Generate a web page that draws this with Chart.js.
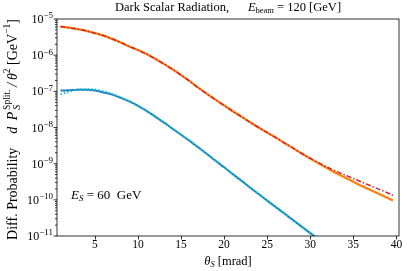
<!DOCTYPE html>
<html>
<head>
<meta charset="utf-8">
<script src="https://cdn.jsdelivr.net/npm/chart.js@4.4.1/dist/chart.umd.min.js"></script>
<style>
  html, body { margin: 0; padding: 0; background: #fff; }
  #wrap { width: 407px; height: 271px; }
</style>
</head>
<body>
<div id="wrap"><canvas id="chart" width="407" height="271"></canvas></div>
<script>
// values (theta in mrad, probability in GeV^-1)
const theta = [1,2,3,4,5,6,7,8,9,10,11,12,13,14,15,16,17,18,19,20,21,22,23,24,25,26,27,28,29,30,31,32,33,34,35,36,37,38,39,39.6];
const orangeVals = [6.17e-6,5.75e-6,5.25e-6,4.68e-6,4.07e-6,3.47e-6,2.82e-6,2.24e-6,1.74e-6,1.38e-6,
  1.07e-6,7.94e-7,5.75e-7,4.07e-7,2.82e-7,1.91e-7,1.26e-7,8.51e-8,5.89e-8,4.07e-8,
  2.82e-8,2.0e-8,1.41e-8,1.0e-8,7.24e-9,5.25e-9,3.72e-9,2.69e-9,1.91e-9,1.38e-9,
  1.0e-9,7.41e-10,5.5e-10,4.17e-10,3.16e-10,2.4e-10,1.86e-10,1.45e-10,1.12e-10,9.5e-11];
const redVals = [6.17e-6,5.75e-6,5.25e-6,4.68e-6,4.07e-6,3.47e-6,2.82e-6,2.24e-6,1.74e-6,1.38e-6,
  1.07e-6,7.94e-7,5.75e-7,4.07e-7,2.82e-7,1.91e-7,1.26e-7,8.51e-8,5.89e-8,4.07e-8,
  2.82e-8,2.0e-8,1.41e-8,1.0e-8,7.24e-9,5.25e-9,3.72e-9,2.69e-9,1.91e-9,1.41e-9,
  1.05e-9,7.94e-10,6.17e-10,4.9e-10,3.89e-10,3.09e-10,2.45e-10,1.95e-10,1.55e-10,1.32e-10];
const blueVals = [1.05e-7,1.07e-7,1.1e-7,1.1e-7,1.05e-7,9.3e-8,8.1e-8,6.6e-8,5.25e-8,3.98e-8,
  2.88e-8,2.0e-8,1.38e-8,9.3e-9,6.3e-9,4.27e-9,2.82e-9,1.86e-9,1.2e-9,7.94e-10,
  5.13e-10,3.39e-10,2.19e-10,1.45e-10,9.5e-11,6.3e-11,4.17e-11,2.75e-11,1.82e-11,1.2e-11,7.9e-12];
const cyanVals = [8.3e-8,9.8e-8,1.12e-7,1.15e-7,1.12e-7,1.0e-7,8.5e-8,6.8e-8,5.25e-8,3.98e-8,
  2.88e-8,2.0e-8,1.38e-8,9.3e-9,6.3e-9,4.27e-9,2.82e-9,1.86e-9,1.2e-9,7.94e-10,
  5.13e-10,3.39e-10,2.19e-10,1.45e-10,9.5e-11,6.3e-11,4.17e-11,2.75e-11,1.82e-11,1.2e-11,7.9e-12];

const xTicks = [5,10,15,20,25,30,35,40];
const yExponents = [-11,-10,-9,-8,-7,-6,-5];

const SERIF = '"Liberation Serif", "DejaVu Serif", serif';

function pts(vals) {
  return vals.map((v, i) => ({ x: theta[i], y: v }));
}

// draw a row of text pieces, each with its own font and vertical offset
// a piece with stack:true is put at the same x as the piece before it
function drawRuns(ctx, parts, x, y, align) {
  parts.forEach(p => {
    ctx.font = p.f;
    p._w = ctx.measureText(p.t).width;
  });
  let w = 0, prevStart = 0, prevW = 0;
  parts.forEach(p => {
    if (p.stack) { p._x = prevStart; w = Math.max(prevStart + prevW, prevStart + p._w); }
    else { p._x = w; prevStart = w; prevW = p._w; w += p._w; }
  });
  let x0 = x;
  if (align === 'center') x0 = x - w / 2;
  if (align === 'right') x0 = x - w;
  ctx.textBaseline = 'middle';
  ctx.textAlign = 'left';
  parts.forEach(p => {
    ctx.font = p.f;
    ctx.fillText(p.t, x0 + p._x, y + (p.dy || 0));
  });
}

const decor = {
  id: 'decor',
  afterDraw(chart) {
    const ctx = chart.ctx;
    const a = chart.chartArea;
    const xs = chart.scales.x, ys = chart.scales.y;
    ctx.save();
    ctx.fillStyle = '#000';
    ctx.strokeStyle = '#000';
    ctx.lineWidth = 0.8;
    ctx.strokeRect(a.left, a.top, a.right - a.left, a.bottom - a.top);

    // x ticks
    ctx.beginPath();
    xTicks.forEach(t => {
      const px = Math.round(xs.getPixelForValue(t)) + 0.5;
      ctx.moveTo(px, a.bottom); ctx.lineTo(px, a.bottom + 3.5);
    });
    // y ticks, major and minor
    yExponents.forEach(e => {
      const py = ys.getPixelForValue(Math.pow(10, e));
      ctx.moveTo(a.left, py); ctx.lineTo(a.left - 3.5, py);
      if (e < -5) {
        for (let k = 2; k <= 9; k++) {
          const my = ys.getPixelForValue(k * Math.pow(10, e));
          ctx.moveTo(a.left, my); ctx.lineTo(a.left - 2, my);
        }
      }
    });
    ctx.stroke();

    ctx.textBaseline = 'middle';
    ctx.textAlign = 'center';
    ctx.font = '11.5px ' + SERIF;
    xTicks.forEach(t => ctx.fillText(String(t), xs.getPixelForValue(t), a.bottom + 9));

    yExponents.forEach(e => {
      const py = ys.getPixelForValue(Math.pow(10, e));
      drawRuns(ctx, [
        { t: '10', f: '12px ' + SERIF },
        { t: '\u2212' + Math.abs(e), f: '9px ' + SERIF, dy: -4 }
      ], a.left - 4, py + 1, 'right');
    });

    // title
    drawRuns(ctx, [
      { t: 'Dark Scalar Radiation,', f: '12.5px ' + SERIF },
      { t: '      E', f: 'italic 12.5px ' + SERIF },
      { t: 'beam', f: '8.5px ' + SERIF, dy: 3 },
      { t: ' = 120 [GeV]', f: '12.5px ' + SERIF }
    ], (a.left + a.right) / 2, 8, 'center');

    // x axis title
    drawRuns(ctx, [
      { t: '\u03b8', f: 'italic 12.5px ' + SERIF },
      { t: 'S', f: 'italic 8.5px ' + SERIF, dy: 3 },
      { t: ' [mrad]', f: '12.5px ' + SERIF }
    ], (a.left + a.right) / 2, 262, 'center');

    // y axis title
    ctx.save();
    ctx.translate(13, (a.top + a.bottom) / 2 + 2);
    ctx.rotate(-Math.PI / 2);
    drawRuns(ctx, [
      { t: 'Diff. Probability    ', f: '14px ' + SERIF },
      { t: 'd \u2009P', f: 'italic 14px ' + SERIF },
      { t: '\u2009S', f: 'italic 10px ' + SERIF, dy: 4 },
      { t: '\u2009Split.', f: '9.5px ' + SERIF, dy: -6, stack: true },
      { t: '\u2009/\u2009\u03b8', f: 'italic 14px ' + SERIF },
      { t: '2', f: '9.5px ' + SERIF, dy: -6 },
      { t: ' [GeV', f: '14px ' + SERIF },
      { t: '\u22121', f: '9.5px ' + SERIF, dy: -6 },
      { t: ']', f: '14px ' + SERIF }
    ], 0, 0, 'center');
    ctx.restore();

    // annotation
    drawRuns(ctx, [
      { t: 'E', f: 'italic 13px ' + SERIF },
      { t: 'S', f: 'italic 9px ' + SERIF, dy: 3 },
      { t: ' = 60  GeV', f: '13px ' + SERIF }
    ], 71, 196, 'left');
    ctx.restore();
  }
};

new Chart(document.getElementById('chart'), {
  type: 'line',
  data: {
    datasets: [
      { data: pts(redVals), borderColor: '#d62728', borderWidth: 1.5, borderDash: [5, 2, 1.5, 2], order: 1 },
      { data: pts(orangeVals), borderColor: '#ff7f0e', borderWidth: 2.2, order: 2 },
      { data: pts(cyanVals), borderColor: '#17becf', borderWidth: 2, borderDash: [1.5, 2], order: 3 },
      { data: pts(blueVals), borderColor: '#1f7fbf', borderWidth: 2, order: 4 }
    ]
  },
  options: {
    responsive: false,
    animation: false,
    events: [],
    layout: { padding: { left: 57, top: 19, right: 8, bottom: 35 } },
    elements: { point: { radius: 0 }, line: { tension: 0.3, fill: false } },
    plugins: { legend: { display: false }, tooltip: { enabled: false } },
    scales: {
      x: { type: 'linear', min: 0.6, max: 40.3, display: false },
      y: { type: 'logarithmic', min: 1e-11, max: 1e-5, display: false }
    }
  },
  plugins: [decor]
});
</script>
</body>
</html>
